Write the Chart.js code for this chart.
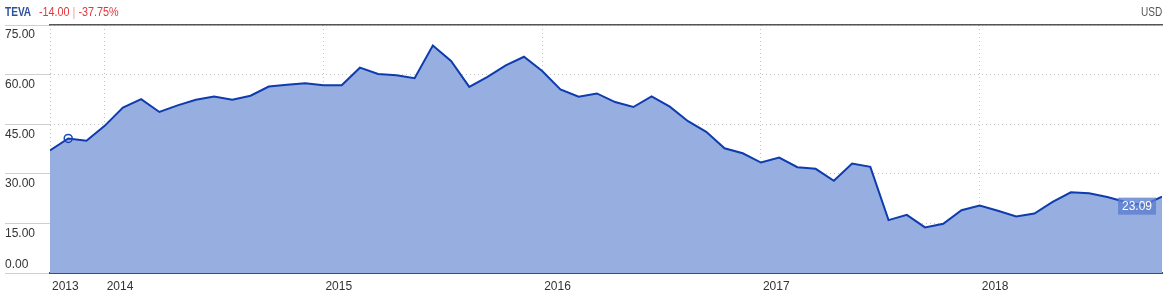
<!DOCTYPE html>
<html>
<head>
<meta charset="utf-8">
<script src="https://cdn.jsdelivr.net/npm/chart.js@4"></script>
<style>
  html, body { margin: 0; padding: 0; background: #fff; }
  #wrap { position: relative; width: 1168px; height: 294px; }
  .hdr { position: absolute; top: 5px; font-family: 'Liberation Sans', Arial, sans-serif; font-size: 12px; line-height: 15px; white-space: nowrap; transform: scaleX(0.84); }
  #sym { left: 5px; color: #2f4f9f; font-weight: bold; transform-origin: left top; }
  #chg { left: 39px; color: #e0363c; transform-origin: left top; transform: scaleX(0.9); }
  #chg .sep { color: #eaa0a0; }
  #cur { right: 6px; color: #555; transform-origin: right top; }
</style>
</head>
<body>
<div id="wrap">
  <div class="hdr" id="sym">TEVA</div>
  <div class="hdr" id="chg">-14.00 <span class="sep">|</span> -37.75%</div>
  <div class="hdr" id="cur">USD</div>
  <canvas id="chart" width="1168" height="294"></canvas>
</div>
<script>
const months = [
  '2013-10', '2013-11', '2013-12',
  '2014-01', '2014-02', '2014-03', '2014-04', '2014-05', '2014-06', '2014-07', '2014-08', '2014-09', '2014-10', '2014-11', '2014-12',
  '2015-01', '2015-02', '2015-03', '2015-04', '2015-05', '2015-06', '2015-07', '2015-08', '2015-09', '2015-10', '2015-11', '2015-12',
  '2016-01', '2016-02', '2016-03', '2016-04', '2016-05', '2016-06', '2016-07', '2016-08', '2016-09', '2016-10', '2016-11', '2016-12',
  '2017-01', '2017-02', '2017-03', '2017-04', '2017-05', '2017-06', '2017-07', '2017-08', '2017-09', '2017-10', '2017-11', '2017-12',
  '2018-01', '2018-02', '2018-03', '2018-04', '2018-05', '2018-06', '2018-07', '2018-08', '2018-09', '2018-10', '2018-11'
];
const closes = [
  37.09, 40.7, 40.0,
  44.5, 50.0, 52.6, 48.7, 50.7, 52.4, 53.4, 52.4, 53.6, 56.4, 56.9, 57.4,
  56.8, 56.8, 62.1, 60.2, 59.8, 58.9, 68.8, 64.1, 56.3, 59.3, 62.8, 65.4,
  61.1, 55.5, 53.3, 54.3, 51.7, 50.2, 53.4, 50.3, 45.9, 42.7, 37.7, 36.2,
  33.4, 34.9, 32.0, 31.5, 27.9, 33.1, 32.1, 16.0, 17.6, 13.8, 14.9, 19.0,
  20.4, 18.8, 17.1, 18.0, 21.5, 24.4, 24.1, 23.0, 21.5, 20.5, 23.09
];
const yearLabels = ['2013', '2014', '2015', '2016', '2017', '2018'];
const priceTicks = [0, 15, 30, 45, 60, 75];
const markedIndex = 1;

const FONT = "'Liberation Sans', Arial, sans-serif";

// month string -> decimal year
const toX = m => {
  const [y, mo] = m.split('-').map(Number);
  return y + (mo - 1) / 12;
};
const points = months.map((m, i) => ({ x: toX(m), y: closes[i] }));
const xMin = points[0].x;
const xMax = points[points.length - 1].x;
const xTickValues = [xMin].concat(yearLabels.slice(1).map(Number));

const lastValueTag = {
  id: 'lastValueTag',
  afterDatasetsDraw(chart) {
    const { ctx, chartArea, scales } = chart;
    const last = closes[closes.length - 1];
    const py = scales.y.getPixelForValue(last);
    const w = 38, h = 17;
    const bx = chartArea.right - w - 6;
    ctx.save();
    ctx.fillStyle = 'rgba(92, 126, 208, 0.8)';
    ctx.fillRect(bx, py + 1, w, h);
    ctx.fillStyle = '#fff';
    ctx.font = '12px ' + FONT;
    ctx.textAlign = 'center';
    ctx.textBaseline = 'middle';
    ctx.fillText(last.toFixed(2), bx + w / 2, py + 1 + h / 2 + 1);
    ctx.restore();
  }
};

new Chart(document.getElementById('chart').getContext('2d'), {
  type: 'line',
  data: {
    datasets: [{
      label: 'TEVA',
      data: points,
      borderColor: '#0e3cae',
      backgroundColor: '#97aee0',
      borderWidth: 2,
      fill: 'origin',
      tension: 0,
      pointRadius: ctx => ctx.dataIndex === markedIndex ? 4 : 0,
      pointBorderColor: '#1a48b8',
      pointBackgroundColor: 'rgba(0,0,0,0)',
      pointBorderWidth: 1.5,
      pointHoverRadius: 0
    }]
  },
  options: {
    responsive: false,
    animation: false,
    layout: { padding: { left: 5, right: 6, top: 25, bottom: 0 } },
    plugins: {
      legend: { display: false },
      tooltip: { enabled: false }
    },
    scales: {
      x: {
        type: 'linear',
        position: 'bottom',
        min: xMin,
        max: xMax,
        afterBuildTicks: scale => {
          scale.ticks = xTickValues.map(v => ({ value: v }));
        },
        afterFit: scale => { scale.height = 20; },
        ticks: {
          align: 'start',
          labelOffset: 2,
          padding: 6,
          color: '#333',
          font: { family: FONT, size: 12 },
          callback: (v, i) => yearLabels[i]
        },
        grid: { color: '#c4c4c4', drawTicks: false },
        border: { display: true, color: '#3f4d6e', width: 2, dash: [1, 3] }
      },
      top: {
        type: 'linear',
        position: 'top',
        min: xMin,
        max: xMax,
        ticks: { display: false },
        grid: { display: false, drawTicks: false },
        border: { display: true, color: '#555', width: 1.5 }
      },
      y: {
        min: 0,
        max: 75,
        afterBuildTicks: scale => {
          scale.ticks = priceTicks.map(v => ({ value: v }));
        },
        afterFit: scale => { scale.width = 45; },
        ticks: {
          crossAlign: 'far',
          labelOffset: 1,
          color: '#333',
          font: { family: FONT, size: 12, lineHeight: 1.5 },
          // labels sit under their grid line, except the bottom one which sits above it
          callback: v => v === 0 ? [v.toFixed(2), ''] : ['', v.toFixed(2)]
        },
        grid: { color: '#c4c4c4', tickLength: 45, tickColor: '#cfcfcf', tickBorderDash: [] },
        border: { display: false, dash: [1, 3] }
      }
    }
  },
  plugins: [lastValueTag]
});
</script>
</body>
</html>
